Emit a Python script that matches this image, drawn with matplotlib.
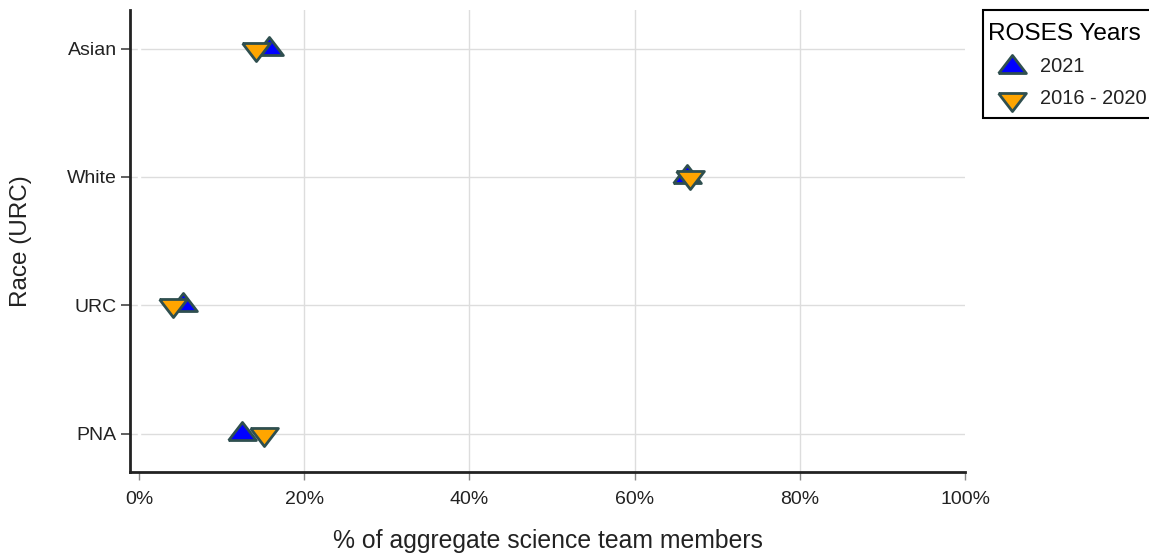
import matplotlib
matplotlib.use("Agg")
import matplotlib.pyplot as plt
from matplotlib.ticker import FuncFormatter
from matplotlib.patches import Rectangle

plt.rcParams['font.family'] = ['Liberation Sans', 'DejaVu Sans']

categories = ["PNA", "URC", "White", "Asian"]
pct_2021 = [12.5, 5.3, 66.3, 15.7]
pct_2016_2020 = [15.1, 4.1, 66.7, 14.1]
series_labels = ["2021", "2016 - 2020"]
legend_title = "ROSES Years"
x_ticks = [0, 20, 40, 60, 80, 100]

W, H = 1149, 556
fig = plt.figure(figsize=(W / 100, H / 100), dpi=100)
ax = fig.add_axes([130 / W, 1 - 472 / H, (965 - 130) / W, (472 - 10) / H])

# plotly-like triangles (wider than tall)
tri_up = [(-1.155, -0.5), (1.155, -0.5), (0.0, 1.0), (-1.155, -0.5)]
tri_dn = [(x, -y) for x, y in tri_up]
edge = "#2f4f4f"
col_2021 = "#0000ff"
col_old = "#ffa500"
msize = 400

ypos = list(range(len(categories)))
ax.scatter(pct_2021, ypos, marker=tri_up, s=msize, c=col_2021, edgecolors=edge,
           linewidths=2, zorder=3)
ax.scatter(pct_2016_2020, ypos, marker=tri_dn, s=msize, c=col_old, edgecolors=edge,
           linewidths=2, zorder=4)

ax.set_xlim(-1.1, 100)
ax.set_ylim(-0.3, 3.3)
ax.set_xticks(x_ticks)
ax.xaxis.set_major_formatter(FuncFormatter(lambda v, p: f"{v:.0f}%"))
ax.set_yticks(ypos)
ax.set_yticklabels(categories)

# gridlines (none at 0% and 100%)
for xv in x_ticks[1:-1]:
    ax.axvline(xv, color="#dddddd", linewidth=1, zorder=0)
for yv in ypos:
    ax.axhline(yv, color="#dddddd", linewidth=1, zorder=0)
ax.axvline(0, color="white", linewidth=2.5, zorder=1)

for s in ["top", "right"]:
    ax.spines[s].set_visible(False)
for s in ["left", "bottom"]:
    ax.spines[s].set_linewidth(2)
    ax.spines[s].set_color("#222222")

ax.tick_params(axis="x", direction="out", length=6, width=1, color="#888888",
               labelsize=14, labelcolor="#222222", pad=8)
ax.tick_params(axis="y", direction="out", length=6.5, width=1.2, color="#444444",
               labelsize=14, labelcolor="#222222", pad=3)

ax.set_xlabel("% of aggregate science team members", fontsize=17.8, color="#222222", labelpad=15)
ax.set_ylabel("Race (URC)", fontsize=17.5, color="#222222", labelpad=25)

# legend drawn manually in a pixel-coordinate overlay axes (extends past the right edge)
leg_ax = fig.add_axes([0, 0, 1, 1], facecolor="none")
leg_ax.set_xlim(0, W)
leg_ax.set_ylim(H, 0)
leg_ax.axis("off")
box = Rectangle((983, 10), 200, 108, fill=True, facecolor="white",
                edgecolor="black", linewidth=1.5, clip_on=False, zorder=1)
leg_ax.add_patch(box)
leg_ax.text(988, 34, legend_title, fontsize=17.6, color="black", va="center", ha="left", zorder=3)
leg_ax.scatter([1012], [67], marker=tri_up, s=msize, c=col_2021, edgecolors=edge,
               linewidths=2, clip_on=False, zorder=3)
leg_ax.scatter([1012], [99], marker=tri_dn, s=msize, c=col_old, edgecolors=edge,
               linewidths=2, clip_on=False, zorder=3)
leg_ax.text(1040, 67, series_labels[0], fontsize=14.4, color="#222222", va="center", ha="left", zorder=3)
leg_ax.text(1040, 99, series_labels[1], fontsize=14.4, color="#222222", va="center", ha="left", zorder=3)

fig.savefig("out.png", dpi=100)
